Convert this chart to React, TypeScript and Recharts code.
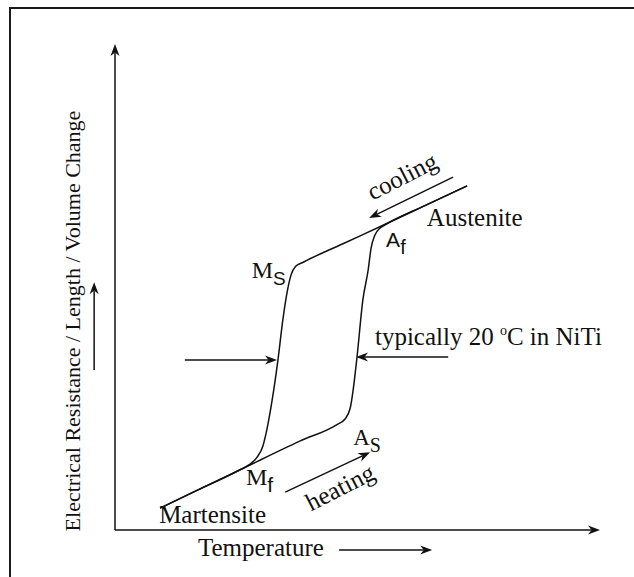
import React from 'react';
import { ComposedChart, Line, XAxis, YAxis, ReferenceLine, ReferenceDot } from 'recharts';

// hysteresis loop, temperature (x) vs property change (y), both 0..100 arbitrary units
const coolingT = [9.3, 17, 25.6, 27.6, 29.3, 30.5, 31.3, 32.4, 33.6, 34.6, 35.5, 36.3, 37.3, 38.8, 47, 55.7, 64, 72.6];
const coolingV = [4.5, 8.2, 12.3, 13.4, 15.0, 17.3, 20.6, 26.7, 35.0, 43.2, 49.0, 52.5, 54.3, 55.1, 58.9, 62.9, 66.8, 70.8];

const heatingT = [9.3, 17, 25.6, 38.1, 45.6, 47.4, 48.5, 49.1, 49.9, 51.1, 52.2, 52.8, 53.6, 54.6, 55.7, 64, 72.6];
const heatingV = [4.5, 8.2, 12.3, 18.3, 21.6, 22.8, 25.1, 28.8, 35.6, 47.3, 53.5, 58.0, 60.7, 62.1, 62.8, 66.8, 70.8];

const coolingData = coolingT.map((t, i) => ({ t, v: coolingV[i] }));
const heatingData = heatingT.map((t, i) => ({ t, v: heatingV[i] }));

// arrows: [fromT, fromV, toT, toV]
const arrows = [
  [0, 0, 0, 100],
  [0, 0, 100, 0],
  [-4.3, 32.9, -4.3, 51.0],
  [46.2, -4.1, 65.4, -4.1],
  [69.7, 72.6, 52.4, 64.2],
  [35.1, 7.8, 52.6, 16.0],
  [14.4, 35.0, 33.4, 35.0],
  [68.7, 35.6, 49.7, 35.6],
];

const serif = '"Liberation Serif", "Times New Roman", serif';
const sans = '"Liberation Sans", Arial, sans-serif';
const ink = '#111';

function Arrow(props: any) {
  const { x1, y1, x2, y2 } = props;
  const a = Math.atan2(y2 - y1, x2 - x1);
  const c = Math.cos(a);
  const s = Math.sin(a);
  const len = 12;
  const half = 4.5;
  const bx = x2 - len * c;
  const by = y2 - len * s;
  const nx = x2 - len * 0.7 * c;
  const ny = y2 - len * 0.7 * s;
  return (
    <g>
      <line x1={x1} y1={y1} x2={nx} y2={ny} stroke={ink} strokeWidth={1.5} />
      <polygon
        points={`${x2},${y2} ${bx - s * half},${by + c * half} ${nx},${ny} ${bx + s * half},${by - c * half}`}
        fill={ink}
      />
    </g>
  );
}

const sub = (main: string, small: string, font: string, subFont = font, subSize = 19) => (
  <>
    <tspan fontFamily={font}>{main}</tspan>
    <tspan fontFamily={subFont} fontSize={subSize} dy={7}>{small}</tspan>
  </>
);

const labels: { t: number; v: number; node: React.ReactNode; rot?: number; anchor?: string; size?: number }[] = [
  { t: 9.1, v: 1.4, node: 'Martensite' },
  { t: 64.3, v: 62.6, node: 'Austenite' },
  { t: 59.2, v: 72.8, node: 'cooling', rot: -27, anchor: 'middle' },
  { t: 46.4, v: 8.8, node: 'heating', rot: -27, anchor: 'middle' },
  {
    t: 53.6, v: 38.1,
    node: (
      <>
        typically 20{' '}
        <tspan fontSize={14} dy={-10}>o</tspan>
        <tspan dy={10}>C in NiTi</tspan>
      </>
    ),
  },
  { t: 28.2, v: 51.9, node: sub('M', 'S', serif, sans), size: 24 },
  { t: 27.0, v: 9.3, node: sub('M', 'f', serif, sans, 21), size: 24 },
  { t: 49.1, v: 17.5, node: sub('A', 'S', serif, serif, 20), size: 23 },
  { t: 55.9, v: 58.2, node: sub('A', 'f', sans, sans, 20), size: 21 },
  { t: 17.1, v: -5.3, node: 'Temperature', size: 25 },
  { t: -7.2, v: 43.0, node: 'Electrical Resistance / Length / Volume Change', rot: -90, anchor: 'middle', size: 22 },
];

const textShape = (l: (typeof labels)[number]) => (p: any) => (
  <text
    x={p.cx}
    y={p.cy}
    fontFamily={serif}
    fontSize={l.size ?? 25}
    fill={ink}
    textAnchor={l.anchor ?? 'start'}
    dominantBaseline={l.rot && l.rot !== -90 ? 'central' : 'alphabetic'}
    transform={l.rot ? `rotate(${l.rot} ${p.cx} ${p.cy})` : undefined}
  >
    {l.node}
  </text>
);

export default function App() {
  return (
    <div style={{ position: 'absolute', left: 0, top: 0, width: 634, height: 577, background: '#fff', overflow: 'hidden' }}>
      <div
        style={{
          position: 'absolute',
          left: 9,
          top: 7,
          width: 700,
          height: 640,
          borderTop: '2px solid #1a1a1a',
          borderLeft: '2px solid #1a1a1a',
        }}
      />
      <ComposedChart width={634} height={577} margin={{ top: 44, right: 34, bottom: 47, left: 115 }}>
        <XAxis type="number" dataKey="t" domain={[0, 100]} allowDataOverflow hide />
        <YAxis type="number" dataKey="v" domain={[0, 100]} allowDataOverflow hide />
        {arrows.map(([a, b, c, d], i) => (
          <ReferenceLine
            key={`arrow-${i}`}
            segment={[{ x: a, y: b }, { x: c, y: d }]}
            ifOverflow="visible"
            shape={Arrow}
          />
        ))}
        <Line
          data={coolingData}
          dataKey="v"
          type="monotone"
          stroke={ink}
          strokeWidth={1.5}
          dot={false}
          activeDot={false}
          isAnimationActive={false}
        />
        <Line
          data={heatingData}
          dataKey="v"
          type="monotone"
          stroke={ink}
          strokeWidth={1.5}
          dot={false}
          activeDot={false}
          isAnimationActive={false}
        />
        {labels.map((l, i) => (
          <ReferenceDot key={`lbl-${i}`} x={l.t} y={l.v} ifOverflow="visible" shape={textShape(l)} />
        ))}
      </ComposedChart>
    </div>
  );
}
